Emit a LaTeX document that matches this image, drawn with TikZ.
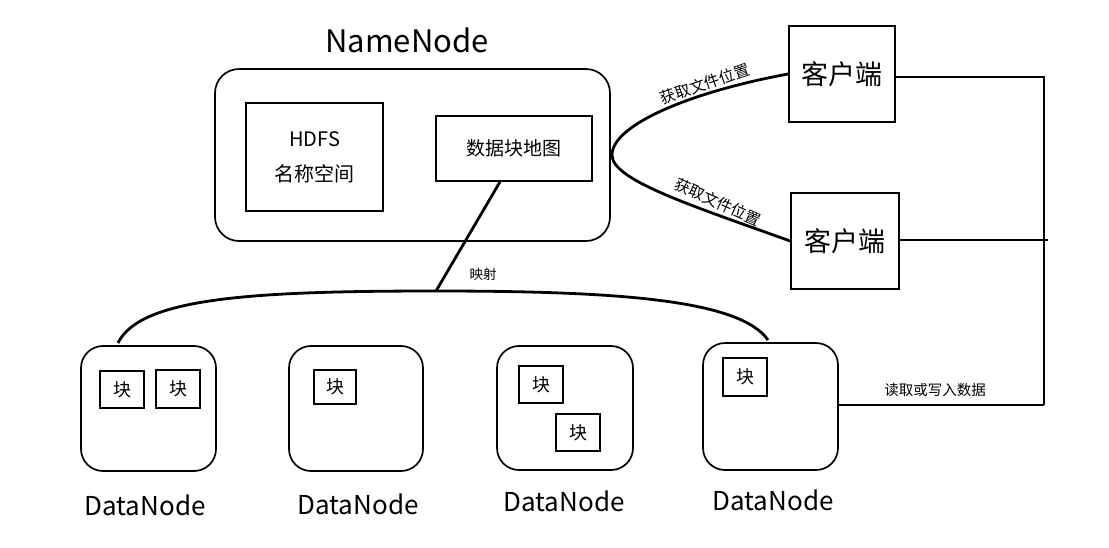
\documentclass[tikz,border=0pt]{standalone}
\usepackage{fontspec}
\setmainfont{Noto Sans CJK SC}
\begin{document}
\begin{tikzpicture}[x=1pt,y=-1pt,
  box/.style={draw,line width=1.7pt,inner sep=0pt},
  rbox/.style={draw,line width=1.7pt,rounded corners=24pt,inner sep=0pt},
  conn/.style={line width=2.8pt},
  lbl/.style={inner sep=0pt},
  every node/.style={font=\fontsize{18}{20}\selectfont}]
\useasboundingbox (0,0) rectangle (1109,547);

% NameNode
\node[lbl,font=\fontsize{31}{34}\selectfont] (nnt) at (407,40) {NameNode};
\node[rbox,minimum width=395pt,minimum height=172pt] (nn) at (412.5,155) {};
\node[box,minimum width=137pt,minimum height=108pt,align=center,font=\fontsize{20}{35}\selectfont] (ns) at (314.5,157) {HDFS\\名称空间};
\node[box,minimum width=156pt,minimum height=65pt,font=\fontsize{19}{20}\selectfont] (map) at (514,148.5) {数据块地图};

% Clients
\node[box,minimum width=106pt,minimum height=96pt,font=\fontsize{27}{30}\selectfont] (c1) at (842,74) {客户端};
\node[box,minimum width=108pt,minimum height=96pt,font=\fontsize{27}{30}\selectfont] (c2) at (845,241) {客户端};

% DataNodes
\node[rbox,rounded corners=22pt,minimum width=135pt,minimum height=125pt] (d1) at (148.5,408.5) {};
\node[rbox,rounded corners=22pt,minimum width=134pt,minimum height=125pt] (d2) at (356,408.5) {};
\node[rbox,rounded corners=22pt,minimum width=136pt,minimum height=124pt] (d3) at (565,408) {};
\node[rbox,rounded corners=22pt,minimum width=135pt,minimum height=127pt] (d4) at (770.5,406.5) {};

\node[box,minimum width=44pt,minimum height=37pt] (b1) at (122,389.5) {块};
\node[box,minimum width=44pt,minimum height=38pt] (b2) at (178,389) {块};
\node[box,minimum width=42pt,minimum height=34pt] (b3) at (335,387) {块};
\node[box,minimum width=44pt,minimum height=37pt] (b4) at (541,384.5) {块};
\node[box,minimum width=44pt,minimum height=37pt] (b5) at (578,432.5) {块};
\node[box,minimum width=44pt,minimum height=38pt] (b6) at (745,377) {块};

\node[lbl,font=\fontsize{26}{28}\selectfont] (l1) at (145,505) {DataNode};
\node[lbl,font=\fontsize{26}{28}\selectfont] (l2) at (358,504) {DataNode};
\node[lbl,font=\fontsize{26}{28}\selectfont] (l3) at (564,501) {DataNode};
\node[lbl,font=\fontsize{26}{28}\selectfont] (l4) at (773,500) {DataNode};

% client <-> NameNode lookups
\coordinate (vtx) at (612,155);
\draw[conn] (c1.west) .. controls (690,92) and (612,125) .. (vtx)
            .. controls (612,180) and (690,205) .. (c2.west);
\node[lbl,rotate=19,font=\fontsize{15.5}{17}\selectfont] (q1) at (705,84) {获取文件位置};
\node[lbl,rotate=-24,font=\fontsize{15.5}{17}\selectfont] (q2) at (718,202) {获取文件位置};

% block map to DataNodes
\coordinate (m) at (436,291);
\coordinate (ml) at (118,343);
\coordinate (mr) at (768,340);
\draw[conn] (map.south -| 500,0) -- (m);
\draw[conn] (ml) .. controls (140,298) and (250,291) .. (m)
            .. controls (620,291) and (740,300) .. (mr);
\node[lbl,font=\fontsize{13.5}{15}\selectfont] (mt) at (483,274) {映射};

% client data path
\coordinate (r1) at (1044,77);
\coordinate (r2) at (1048,240);
\coordinate (r3) at (1044,405);
\draw[conn] (c1.east |- r1) -- (r1) -- (r3);
\draw[conn] (c2.east |- r2) -- (r2);
\draw[conn] (d4.east |- r3) -- (r3);
\node[lbl,font=\fontsize{14.5}{16}\selectfont] (rw) at (935,390) {读取或写入数据};
\end{tikzpicture}
\end{document}
